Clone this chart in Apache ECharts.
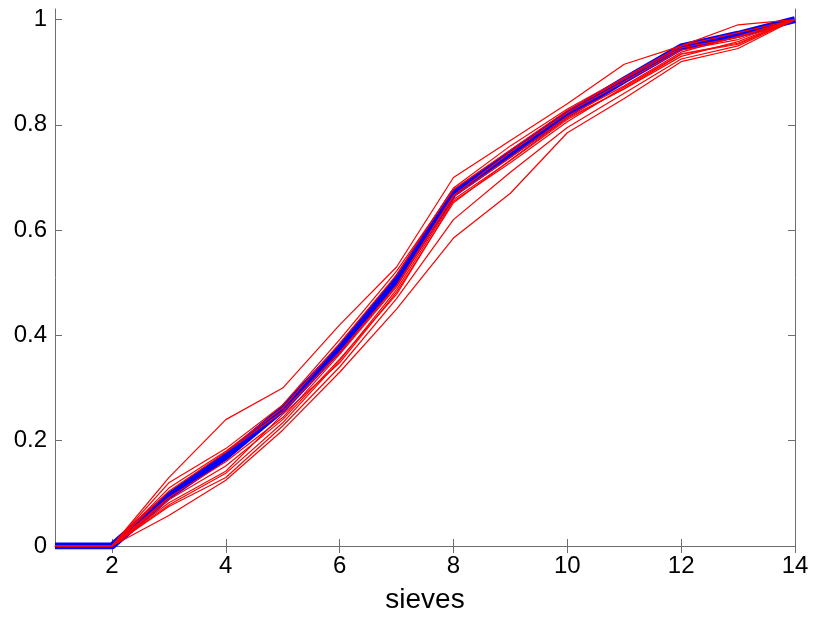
<!DOCTYPE html>
<html>
<head>
<meta charset="utf-8">
<script src="https://cdn.jsdelivr.net/npm/echarts@6/dist/echarts.min.js"></script>
<style>html,body{margin:0;padding:0;background:#fff}#c{width:813px;height:619px}</style>
</head>
<body>
<div id="c"></div>
<script>
var sieves = [1,2,3,4,5,6,7,8,9,10,11,12,13,14];
var xTicks = [2,4,6,8,10,12,14];
var yTicks = [0,0.2,0.4,0.6,0.8,1];
var meanCurve = [0,0,0.095,0.17,0.26,0.375,0.505,0.67,0.745,0.82,0.885,0.948,0.972,1];
var run1  = [0,0,0.13,0.24,0.30,0.42,0.53,0.70,0.77,0.84,0.915,0.95,0.975,1];
var run2  = [0,0,0.058,0.125,0.22,0.33,0.45,0.585,0.67,0.785,0.85,0.92,0.945,1];
var run3  = [0,0,0.075,0.13,0.228,0.34,0.47,0.62,0.71,0.795,0.86,0.925,0.95,1];
var run4  = [0,0,0.11,0.18,0.262,0.385,0.515,0.68,0.76,0.83,0.89,0.95,0.99,1];
var run5  = [0,0,0.088,0.152,0.24,0.355,0.478,0.655,0.728,0.806,0.872,0.935,0.955,1];
var run6  = [0,0,0.104,0.178,0.255,0.368,0.495,0.666,0.748,0.823,0.882,0.942,0.962,1];
var run7  = [0,0,0.082,0.142,0.25,0.348,0.482,0.652,0.733,0.813,0.868,0.93,0.958,1];
var run8  = [0,0,0.12,0.185,0.268,0.392,0.522,0.677,0.752,0.827,0.887,0.946,0.966,1];
var run9  = [0,0,0.092,0.16,0.244,0.364,0.492,0.664,0.738,0.816,0.874,0.938,0.968,1];
var run10 = [0,0,0.078,0.138,0.234,0.352,0.487,0.658,0.732,0.81,0.869,0.934,0.953,1];
var runs = [run1,run2,run3,run4,run5,run6,run7,run8,run9,run10];

function pairs(vals){ return sieves.map(function(x,i){ return [x, vals[i]]; }); }

var axisColor = '#6e6e6e';
var font = 'Liberation Sans, Arial, sans-serif';
var series = [{
  type:'line', data: pairs(meanCurve), symbol:'none', silent:true,
  lineStyle:{color:'#0000ff', width:7}, xAxisIndex:0, yAxisIndex:0, z:2
}];
runs.forEach(function(r){
  series.push({type:'line', data: pairs(r), symbol:'none', silent:true,
    lineStyle:{color:'#ff0000', width:1.2}, xAxisIndex:0, yAxisIndex:0, z:3});
});

var chart = echarts.init(document.getElementById('c'), null, {renderer:'canvas'});
chart.setOption({
  animation:false,
  backgroundColor:'#fff',
  grid:{left:55, right:18, top:9, bottom:72, containLabel:false},
  xAxis:[{
    type:'value', min:1, max:14, interval:1, position:'bottom',
    name:'sieves', nameLocation:'middle', nameGap:40,
    nameTextStyle:{fontSize:28, color:'#000', fontFamily:font},
    axisLine:{show:true, lineStyle:{color:axisColor, width:1}},
    axisTick:{show:true, inside:true, length:7, customValues:xTicks, lineStyle:{color:axisColor}},
    axisLabel:{show:true, customValues:xTicks, fontSize:24, color:'#000', fontFamily:font, margin:8},
    splitLine:{show:false}
  },{
    type:'value', min:1, max:14, interval:1, position:'top',
    axisLine:{show:true, lineStyle:{color:axisColor, width:1}},
    axisTick:{show:true, inside:true, length:7, customValues:xTicks, lineStyle:{color:axisColor}},
    axisLabel:{show:false}, splitLine:{show:false}
  }],
  yAxis:[{
    type:'value', min:0, max:1.02, interval:0.2, position:'left',
    axisLine:{show:true, lineStyle:{color:axisColor, width:1}},
    axisTick:{show:true, inside:true, length:7, customValues:yTicks, lineStyle:{color:axisColor}},
    axisLabel:{show:true, customValues:yTicks, fontSize:24, color:'#000', fontFamily:font, margin:8,
      formatter:function(v){ return String(Math.round(v*10)/10); }},
    splitLine:{show:false}
  },{
    type:'value', min:0, max:1.02, interval:0.2, position:'right',
    axisLine:{show:true, lineStyle:{color:axisColor, width:1}},
    axisTick:{show:true, inside:true, length:7, customValues:yTicks, lineStyle:{color:axisColor}},
    axisLabel:{show:false}, splitLine:{show:false}
  }],
  series: series
});
</script>
</body>
</html>
